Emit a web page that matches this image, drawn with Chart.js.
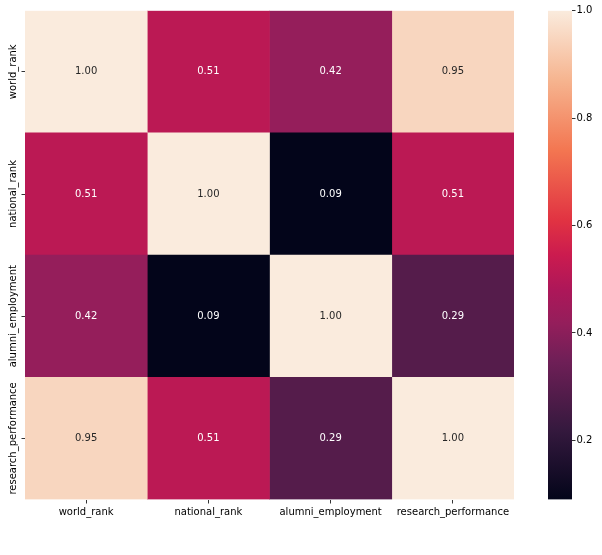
<!DOCTYPE html>
<html>
<head>
<meta charset="utf-8">
<script src="https://cdn.jsdelivr.net/npm/chart.js@4.4.1/dist/chart.umd.min.js"></script>
<style>
  html, body { margin: 0; padding: 0; background: #fff; }
  #wrap { position: relative; width: 602px; height: 555px; overflow: hidden; }
  #heat { position: absolute; left: 0; top: 0; }
  #cbar { position: absolute; left: 530px; top: 0; }
</style>
</head>
<body>
<div id="wrap">
  <canvas id="heat" width="602" height="555"></canvas>
  <canvas id="cbar" width="72" height="555"></canvas>
</div>
<script>
// Correlation matrix: one array per row
const rowLabels = ['world_rank', 'national_rank', 'alumni_employment', 'research_performance'];
const colLabels = ['world_rank', 'national_rank', 'alumni_employment', 'research_performance'];
const corrWorldRank           = [1.00, 0.51, 0.42, 0.95];
const corrNationalRank        = [0.51, 1.00, 0.09, 0.51];
const corrAlumniEmployment    = [0.42, 0.09, 1.00, 0.29];
const corrResearchPerformance = [0.95, 0.51, 0.29, 1.00];
const colorbarTicks = [0.2, 0.4, 0.6, 0.8, 1.0];

const matrix = [corrWorldRank, corrNationalRank, corrAlumniEmployment, corrResearchPerformance];
const allValues = matrix.flat();
const vmin = Math.min(...allValues);
const vmax = Math.max(...allValues);

// "rocket" colormap key colours
const rocketStops = [
  [0.0,   [3, 5, 26]],
  [1 / 7, [53, 25, 62]],
  [2 / 7, [112, 31, 87]],
  [0.36,  [148, 30, 91]],
  [3 / 7, [173, 23, 89]],
  [0.5,   [203, 27, 79]],
  [4 / 7, [225, 51, 66]],
  [5 / 7, [243, 118, 81]],
  [6 / 7, [246, 180, 143]],
  [1.0,   [250, 235, 221]]
];

function rocketRGB(t) {
  t = Math.max(0, Math.min(1, t));
  for (let k = 1; k < rocketStops.length; k++) {
    const [p1, c1] = rocketStops[k];
    const [p0, c0] = rocketStops[k - 1];
    if (t <= p1) {
      const f = (t - p0) / (p1 - p0);
      return c0.map((c, n) => Math.round(c + (c1[n] - c) * f));
    }
  }
  return rocketStops[rocketStops.length - 1][1];
}
function colorFor(v) {
  const [r, g, b] = rocketRGB((v - vmin) / (vmax - vmin));
  return `rgb(${r},${g},${b})`;
}
function textColorFor(v) {
  const lin = rocketRGB((v - vmin) / (vmax - vmin)).map(c => {
    c /= 255;
    return c <= 0.03928 ? c / 12.92 : Math.pow((c + 0.055) / 1.055, 2.4);
  });
  const lum = 0.2126 * lin[0] + 0.7152 * lin[1] + 0.0722 * lin[2];
  return lum > 0.408 ? '#262626' : '#ffffff';
}

const FONT = 'DejaVu Sans';

// Each column is a dataset of floating horizontal bars spanning [j, j+1]
const datasets = colLabels.map((col, j) => ({
  label: col,
  data: rowLabels.map(() => [j, j + 1]),
  values: rowLabels.map((_, i) => matrix[i][j]),
  backgroundColor: rowLabels.map((_, i) => colorFor(matrix[i][j])),
  borderWidth: 0,
  grouped: false,
  barPercentage: 1,
  categoryPercentage: 1
}));

// Writes the value inside each cell
const cellText = {
  id: 'cellText',
  afterDatasetsDraw(chart) {
    const ctx = chart.ctx;
    ctx.save();
    ctx.font = `10px "${FONT}"`;
    ctx.textAlign = 'center';
    ctx.textBaseline = 'middle';
    chart.data.datasets.forEach((ds, j) => {
      chart.getDatasetMeta(j).data.forEach((bar, i) => {
        const v = ds.values[i];
        const p = bar.getCenterPoint();
        ctx.fillStyle = textColorFor(v);
        ctx.fillText(v.toFixed(2), p.x, p.y);
      });
    });
    ctx.restore();
  }
};

// Vertical row labels on the y axis
const rowText = {
  id: 'rowText',
  afterDraw(chart) {
    const ctx = chart.ctx;
    const ys = chart.scales.y;
    ctx.save();
    ctx.font = `10px "${FONT}"`;
    ctx.fillStyle = '#000';
    ctx.textAlign = 'center';
    ctx.textBaseline = 'alphabetic';
    rowLabels.forEach((lab, i) => {
      ctx.save();
      ctx.translate(16, ys.getPixelForValue(i));
      ctx.rotate(-Math.PI / 2);
      ctx.fillText(lab, 0, 0);
      ctx.restore();
    });
    ctx.restore();
  }
};

new Chart(document.getElementById('heat'), {
  type: 'bar',
  data: { labels: rowLabels, datasets },
  options: {
    indexAxis: 'y',
    responsive: false,
    animation: false,
    devicePixelRatio: 1,
    layout: { padding: { top: 10.7, right: 88, left: 0, bottom: 0 } },
    plugins: { legend: { display: false }, tooltip: { enabled: false } },
    scales: {
      x: {
        type: 'linear',
        min: 0,
        max: colLabels.length,
        afterBuildTicks: s => { s.ticks = colLabels.map((_, j) => ({ value: j + 0.5 })); },
        afterFit: s => { s.height = 55.5; },
        grid: { drawOnChartArea: false, drawTicks: true, tickLength: 4, color: '#000', lineWidth: 0.8 },
        border: { display: false },
        ticks: {
          autoSkip: false, maxRotation: 0, minRotation: 0, padding: 2.5,
          color: '#000', font: { family: FONT, size: 10 },
          callback: (v, i) => colLabels[i]
        }
      },
      y: {
        type: 'category',
        labels: rowLabels,
        afterFit: s => { s.width = 25; },
        grid: { offset: false, drawOnChartArea: false, drawTicks: true, tickLength: 3.5, color: '#000', lineWidth: 0.8 },
        border: { display: false },
        ticks: { display: false }
      }
    }
  },
  plugins: [cellText, rowText]
});

// Colour bar
function barGradient(context) {
  const chart = context.chart;
  if (!chart.chartArea) return null;
  const ys = chart.scales.y;
  const g = chart.ctx.createLinearGradient(0, ys.getPixelForValue(vmin), 0, ys.getPixelForValue(vmax));
  rocketStops.forEach(([p, c]) => g.addColorStop(p, `rgb(${c[0]},${c[1]},${c[2]})`));
  return g;
}

new Chart(document.getElementById('cbar'), {
  type: 'bar',
  data: {
    labels: [''],
    datasets: [{
      data: [[vmin, vmax]],
      backgroundColor: barGradient,
      borderWidth: 0,
      barPercentage: 1,
      categoryPercentage: 1
    }]
  },
  options: {
    responsive: false,
    animation: false,
    devicePixelRatio: 1,
    layout: { padding: { left: 18, top: 10.7, right: 0, bottom: 55.5 } },
    plugins: { legend: { display: false }, tooltip: { enabled: false } },
    scales: {
      x: { display: false },
      y: {
        position: 'right',
        min: vmin,
        max: vmax,
        afterBuildTicks: s => { s.ticks = colorbarTicks.map(v => ({ value: v })); },
        afterFit: s => { s.width = 30; },
        grid: { drawOnChartArea: false, drawTicks: true, tickLength: 3.5, color: '#000', lineWidth: 0.8 },
        border: { display: false },
        ticks: {
          padding: 1, color: '#000', font: { family: FONT, size: 10 },
          callback: v => v.toFixed(1)
        }
      }
    }
  }
});
</script>
</body>
</html>
